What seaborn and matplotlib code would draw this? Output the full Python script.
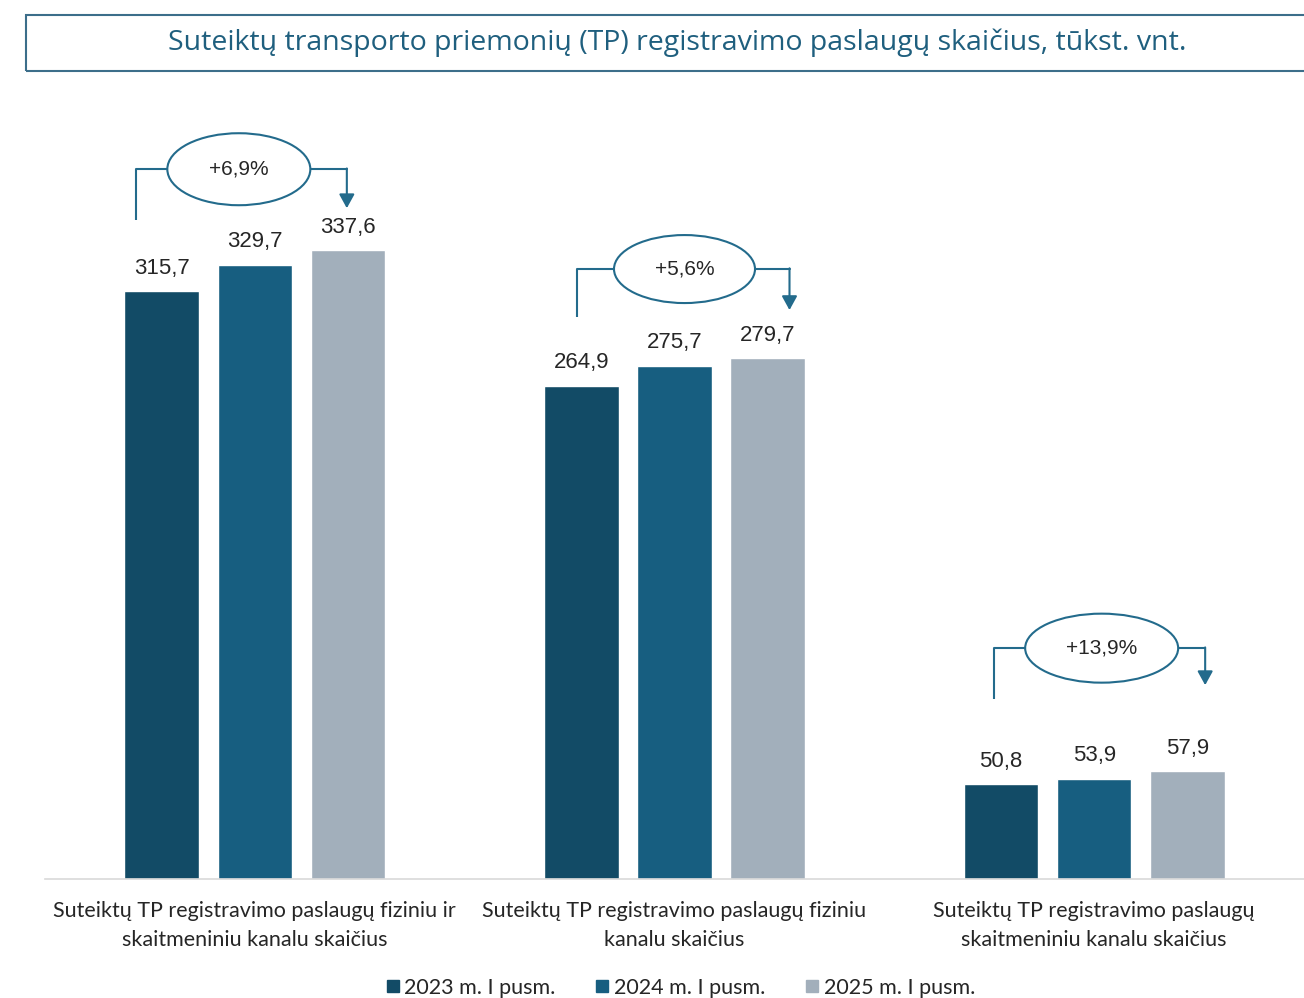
import matplotlib
matplotlib.use("Agg")
import matplotlib.pyplot as plt
from matplotlib.patches import Ellipse, Rectangle
from matplotlib.lines import Line2D
import pandas as pd
import seaborn as sns

sns.set_theme(style="white")
plt.rcParams['font.family'] = ['Liberation Sans', 'DejaVu Sans']

# data
categories = ["Suteiktų TP registravimo paslaugų fiziniu ir\nskaitmeniniu kanalu skaičius",
              "Suteiktų TP registravimo paslaugų fiziniu\nkanalu skaičius",
              "Suteiktų TP registravimo paslaugų\nskaitmeniniu kanalu skaičius"]
periods = ["2023 m. I pusm.", "2024 m. I pusm.", "2025 m. I pusm."]
v2023 = [315.7, 264.9, 50.8]
v2024 = [329.7, 275.7, 53.9]
v2025 = [337.6, 279.7, 57.9]
growth = ["+6,9%", "+5,6%", "+13,9%"]

colors = ["#124B66", "#175E80", "#A2AFBB"]
line_c = "#236B8C"
text_c = "#262626"
label_font = ['Lato', 'DejaVu Sans']

df = pd.DataFrame({
    "category": categories * 3,
    "period": [p for p in periods for _ in categories],
    "value": v2023 + v2024 + v2025,
})

W, H = 1304, 998
fig = plt.figure(figsize=(W / 100, H / 100), dpi=100)
ax_l, ax_b, ax_w, ax_h = 45 / W, 119 / H, 1259 / W, 745 / H
ax = fig.add_axes([ax_l, ax_b, ax_w, ax_h])

sns.barplot(data=df, x="category", y="value", hue="period", palette=colors,
            width=0.667, gap=0.2, legend=False, ax=ax, saturation=1)

ax.set_xlim(-0.5, 2.5)
ax.set_ylim(0, 400)
ax.set_xlabel("")
ax.set_ylabel("")
ax.set_yticks([])
for s in ["top", "right", "left"]:
    ax.spines[s].set_visible(False)
ax.spines["bottom"].set_color("#D9D9D9")
ax.spines["bottom"].set_linewidth(1.2)
ax.set_xticks(range(len(categories)))
ax.set_xticklabels(categories, fontsize=15.5, color=text_c, linespacing=1.55,
                   family=label_font)
ax.tick_params(axis="x", length=0, pad=16)

for cont in ax.containers:
    ax.bar_label(cont, labels=[f"{b.get_height():.1f}".replace(".", ",") for b in cont],
                 padding=9, fontsize=16, color=text_c)

# growth brackets, offsets in pixels relative to group center / tallest bar
sx = ax_w * W / 3
sy = ax_h * H / 400
ann_layout = [
    dict(left=-119, cx=-16, w=143, h=72, right=92, horiz=81, lbot=30, tip=42),
    dict(left=-98, cx=10, w=141, h=68, right=115, horiz=89, lbot=41, tip=48),
    dict(left=-100, cx=7.5, w=153, h=69, right=111, horiz=123, lbot=72, tip=86),
]
for i, lay in enumerate(ann_layout):
    top = max(v2023[i], v2024[i], v2025[i])
    yh = top + lay["horiz"] / sy
    xl = i + lay["left"] / sx
    xc = i + lay["cx"] / sx
    ew = lay["w"] / sx
    xr = i + lay["right"] / sx
    ax.plot([xl, xl, xc - ew / 2], [top + lay["lbot"] / sy, yh, yh],
            color=line_c, lw=1.5, clip_on=False, solid_capstyle="butt")
    ax.plot([xc + ew / 2, xr], [yh, yh], color=line_c, lw=1.5, clip_on=False)
    ax.annotate("", xy=(xr, top + lay["tip"] / sy), xytext=(xr, yh + 0.4),
                arrowprops=dict(arrowstyle="-|>,head_length=0.6,head_width=0.33",
                                color=line_c, lw=1.5, mutation_scale=14,
                                shrinkA=0, shrinkB=0), annotation_clip=False)
    ax.add_patch(Ellipse((xc, yh), ew, lay["h"] / sy, facecolor="white",
                         edgecolor=line_c, lw=1.5, clip_on=False, zorder=5))
    ax.text(xc, yh, growth[i], ha="center", va="center", fontsize=15,
            color=text_c, zorder=6)

# title box
fig.add_artist(Rectangle((26 / W, 1 - 71 / H), 1.0, 56 / H, transform=fig.transFigure,
                         fill=False, edgecolor="#3C6E8A", lw=1.5))
fig.text(677 / W, 1 - 43 / H,
         "Suteiktų transporto priemonių (TP) registravimo paslaugų skaičius, tūkst. vnt.",
         ha="center", va="center", fontsize=20.5, color="#1F5F7E",
         family=['Open Sans', 'DejaVu Sans'])

handles = [Line2D([], [], marker="s", linestyle="", markersize=8,
                  markerfacecolor=c, markeredgecolor=c) for c in colors]
fig.legend(handles, periods, loc="center", bbox_to_anchor=(680 / W, 1 - 988 / H),
           ncol=3, frameon=False, handletextpad=0.2, handlelength=0.7,
           columnspacing=1.8, prop=dict(family=label_font, size=15.5),
           labelcolor=text_c)

fig.savefig("out.png", dpi=100, facecolor="white")
